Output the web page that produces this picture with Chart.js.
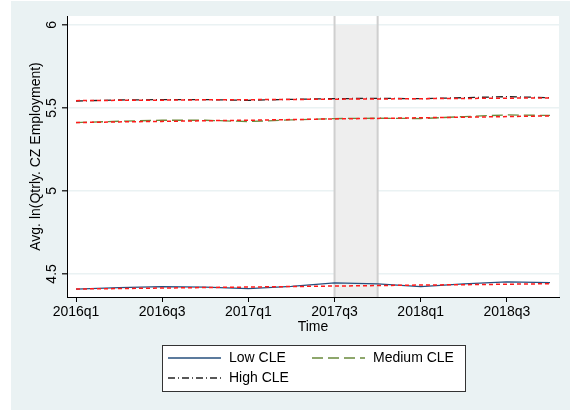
<!DOCTYPE html>
<html>
<head>
<meta charset="utf-8">
<script src="https://cdn.jsdelivr.net/npm/chart.js@4.4.1/dist/chart.umd.min.js"></script>
<style>
  html, body { margin: 0; padding: 0; background: #fff; }
  canvas { display: block; }
</style>
</head>
<body>
<canvas id="cle-chart" width="570" height="410"></canvas>
<script>
// Avg. ln(Qtrly. CZ Employment) by CLE group

const quarters = ['2016q1', '2016q2', '2016q3', '2016q4', '2017q1', '2017q2',
                  '2017q3', '2017q4', '2018q1', '2018q2', '2018q3', '2018q4'];
const tickQuarters = ['2016q1', '2016q3', '2017q1', '2017q3', '2018q1', '2018q3'];
const yTicks = [4.5, 5, 5.5, 6];
const shadeQuarters = ['2017q3', '2017q4'];

const lowCLE  = [4.408, 4.418, 4.424, 4.420, 4.412, 4.425, 4.446, 4.440, 4.424, 4.440, 4.452, 4.448];
const lowFit  = [4.409, 4.412, 4.415, 4.418, 4.421, 4.424, 4.427, 4.430, 4.433, 4.435, 4.438, 4.441];
const medCLE  = [5.412, 5.420, 5.426, 5.426, 5.418, 5.428, 5.436, 5.438, 5.436, 5.448, 5.458, 5.455];
const medFit  = [5.412, 5.416, 5.419, 5.423, 5.426, 5.430, 5.434, 5.437, 5.441, 5.444, 5.448, 5.452];
const highCLE = [5.542, 5.548, 5.550, 5.550, 5.546, 5.552, 5.556, 5.558, 5.556, 5.562, 5.568, 5.562];
const highFit = [5.544, 5.546, 5.547, 5.549, 5.550, 5.551, 5.553, 5.554, 5.556, 5.557, 5.559, 5.560];

const FONT = 'Liberation Sans, Arial, sans-serif';
Chart.defaults.font.family = FONT;
Chart.defaults.font.size = 14;
Chart.defaults.color = '#000';

const toPoints = vals => vals.map((v, i) => ({ x: i, y: v }));
const qIndex = q => quarters.indexOf(q);

const mainStyle = (label, vals, color, dash) => ({
    label: label,
    data: toPoints(vals),
    borderColor: color,
    borderWidth: 1.3,
    borderDash: dash,
    pointRadius: 0,
    tension: 0,
    order: 1
});
const fitStyle = vals => ({
    label: 'fit',
    data: toPoints(vals),
    borderColor: '#ff1a1a',
    borderWidth: 1.5,
    borderDash: [4, 3],
    pointRadius: 0,
    tension: 0,
    order: 0
});

const datasets = [
    mainStyle('Low CLE', lowCLE, '#264f7d', []),
    mainStyle('Medium CLE', medCLE, '#6a8a3c', [11, 5]),
    mainStyle('High CLE', highCLE, '#222222', [7, 3, 1, 3]),
    fitStyle(lowFit),
    fitStyle(medFit),
    fitStyle(highFit)
];

// backgrounds, shaded quarter band, rotated y labels, boxed legend
const stataLook = {
    id: 'stataLook',
    beforeDraw(chart) {
        const ctx = chart.ctx, a = chart.chartArea;
        ctx.save();
        ctx.fillStyle = '#ffffff';
        ctx.fillRect(0, 0, chart.width, chart.height);
        ctx.fillStyle = '#eaf2f3';
        ctx.fillRect(11, 1, chart.width - 11, chart.height - 1);
        ctx.fillStyle = '#ffffff';
        ctx.fillRect(a.left, a.top, a.right - a.left, a.bottom - a.top);
        ctx.restore();
    },
    beforeDatasetsDraw(chart) {
        const ctx = chart.ctx, a = chart.chartArea;
        const xs = chart.scales.x, ys = chart.scales.y;
        const x0 = xs.getPixelForValue(qIndex(shadeQuarters[0]));
        const x1 = xs.getPixelForValue(qIndex(shadeQuarters[1]));
        const yTop = ys.getPixelForValue(yTicks[yTicks.length - 1]);
        ctx.save();
        ctx.fillStyle = '#eeeeee';
        ctx.fillRect(x0, yTop, x1 - x0, a.bottom - yTop);
        ctx.strokeStyle = '#cfcfcf';
        ctx.lineWidth = 2;
        [x0, x1].forEach(x => {
            ctx.beginPath();
            ctx.moveTo(x, a.top);
            ctx.lineTo(x, a.bottom);
            ctx.stroke();
        });
        ctx.restore();
    },
    afterDraw(chart) {
        const ctx = chart.ctx, ys = chart.scales.y;
        ctx.save();
        ctx.fillStyle = '#000';
        ctx.font = '14px ' + FONT;
        ctx.textAlign = 'center';
        ctx.textBaseline = 'middle';
        yTicks.forEach(v => {
            ctx.save();
            ctx.translate(52, ys.getPixelForValue(v));
            ctx.rotate(-Math.PI / 2);
            ctx.fillText(String(v), 0, 0);
            ctx.restore();
        });

        // legend box
        ctx.fillStyle = '#ffffff';
        ctx.fillRect(162, 345, 303, 46);
        ctx.strokeStyle = '#333333';
        ctx.lineWidth = 1;
        ctx.strokeRect(162.5, 345.5, 303, 46);
        const items = [
            { ds: chart.data.datasets[0], x: 168, y: 358 },
            { ds: chart.data.datasets[1], x: 312, y: 358 },
            { ds: chart.data.datasets[2], x: 168, y: 378 }
        ];
        items.forEach(it => {
            ctx.strokeStyle = it.ds.borderColor;
            ctx.lineWidth = 1.3;
            ctx.setLineDash(it.ds.borderDash);
            ctx.beginPath();
            ctx.moveTo(it.x, it.y);
            ctx.lineTo(it.x + 53, it.y);
            ctx.stroke();
            ctx.setLineDash([]);
            ctx.fillStyle = '#000';
            ctx.textAlign = 'left';
            ctx.fillText(it.ds.label, it.x + 61, it.y);
        });
        ctx.restore();
    }
};

new Chart(document.getElementById('cle-chart').getContext('2d'), {
    type: 'line',
    data: { datasets: datasets },
    options: {
        responsive: false,
        animation: false,
        devicePixelRatio: 1,
        layout: { padding: { left: 0, top: 16, right: 11, bottom: 74 } },
        plugins: {
            legend: { display: false },
            tooltip: { enabled: false }
        },
        scales: {
            x: {
                type: 'linear',
                min: -0.209,
                max: 11.209,
                afterFit: s => { s.height = 39; },
                afterBuildTicks: s => { s.ticks = tickQuarters.map(q => ({ value: qIndex(q) })); },
                ticks: {
                    callback: v => quarters[v],
                    maxRotation: 0,
                    autoSkip: false,
                    padding: 2,
                    font: { size: 14 }
                },
                grid: { drawOnChartArea: false, tickLength: 5, tickColor: '#000' },
                border: { color: '#000', width: 1 },
                title: { display: true, text: 'Time', padding: 0, font: { size: 14 } }
            },
            y: {
                min: 4.361,
                max: 6.054,
                afterFit: s => { s.width = 67; },
                afterBuildTicks: s => { s.ticks = yTicks.map(v => ({ value: v })); },
                ticks: { display: false },
                grid: { color: '#eaf2f3', lineWidth: 1.5, tickLength: 5, tickColor: '#333' },
                border: { color: '#000', width: 1 },
                title: {
                    display: true,
                    text: 'Avg. ln(Qtrly. CZ Employment)',
                    padding: { top: 28, bottom: 0 },
                    font: { size: 14 }
                }
            }
        }
    },
    plugins: [stataLook]
});
</script>
</body>
</html>
